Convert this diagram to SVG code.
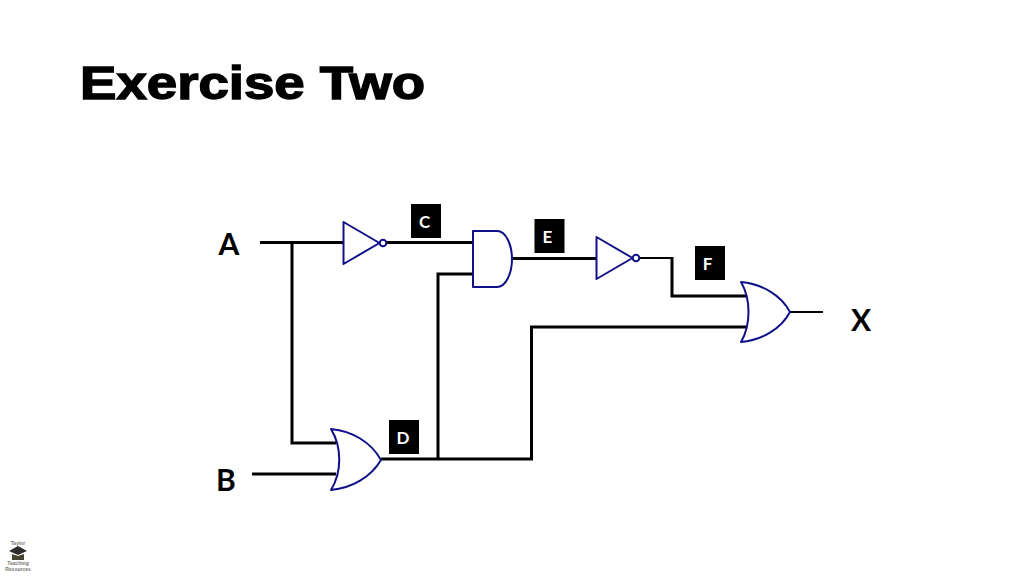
<svg xmlns="http://www.w3.org/2000/svg" width="1024" height="576" viewBox="0 0 1024 576">
<style>
.w{fill:none;stroke:#000;stroke-width:3;stroke-linejoin:miter}
.t{fill:none;stroke:#000;stroke-width:2}
.g{fill:#fff;stroke:#10108a;stroke-width:2;stroke-linejoin:round}
.b{fill:#000}
.bt{font-family:"Lato","Open Sans",sans-serif;font-weight:700;font-size:17px;fill:#fff;text-anchor:middle}
.io{font-family:"Lato","Open Sans",sans-serif;font-weight:700;font-size:30px;fill:#000;text-anchor:middle}
.lg{font-family:"Liberation Sans",sans-serif;font-size:5px;font-weight:700;fill:#777;text-anchor:middle}
</style>
<rect width="1024" height="576" fill="#fff"/>
<text id="title" x="80" y="99" font-family="Liberation Sans,sans-serif" font-weight="700" font-size="46" fill="#000" stroke="#000" stroke-width="1.400" textLength="345" lengthAdjust="spacingAndGlyphs">Exercise Two</text>
<g id="connectors">
<path class="w" d="M260 242.500H343"/>
<path class="w" d="M292 242V443H336"/>
<path class="w" d="M252 474H336"/>
<path class="w" d="M381 459H533M531.500 459V327H746"/>
<path class="w" d="M438 459V274H473"/>
<path class="w" d="M386 242.500H473"/>
<path class="w" d="M512 258.500H596"/>
<path class="t" d="M639 258H672"/>
<path class="w" d="M672 257V296H746"/>
<path class="t" d="M790 312H823"/>
</g>
<g id="not1"><path class="g" d="M343.500 222L379.500 243L343.500 264Z"/><circle class="g" cx="383" cy="243" r="3.300"/></g>
<g id="and1"><path class="g" d="M473 231H497C506 231 512 245 512 259C512 273 506 287 497 287H473Z"/></g>
<g id="not2"><path class="g" d="M596.500 237L632.500 258L596.500 279Z"/><circle class="g" cx="636" cy="258" r="3.300"/></g>
<g id="or1"><path class="g" d="M331 429C352 431 371 442 381 460C371 477 352 488 331 490C342 472 342 447 331 429Z"/></g>
<g id="or2"><path class="g" d="M741 282C762 284 781 295 790 312C781 329 762 340 741 342C751 325 751 299 741 282Z"/></g>
<g id="label-c"><rect class="b" x="411" y="204" width="30" height="34"/><text class="bt" x="424.500" y="228">C</text></g>
<g id="label-e"><rect class="b" x="534.500" y="219" width="30" height="34"/><text class="bt" x="547.500" y="243">E</text></g>
<g id="label-f"><rect class="b" x="695" y="246" width="30" height="34"/><text class="bt" x="707.500" y="270">F</text></g>
<g id="label-d"><rect class="b" x="389" y="420" width="30" height="34"/><text class="bt" x="403" y="444">D</text></g>
<g id="input-a"><text class="io" x="229" y="255">A</text></g>
<g id="input-b"><text class="io" x="226" y="491">B</text></g>
<g id="output-x"><text class="io" x="861" y="331">X</text></g>
<g id="logo">
<path d="M9 551L18 546L27 551L18 555Z" fill="#2c2c2c"/>
<path d="M12 554L18 556L24 554V560H12Z" fill="#45452f"/>
<text class="lg" x="18" y="545">Taylor</text>
<text class="lg" x="18" y="565">Teaching</text>
<text class="lg" x="18" y="571">Resources</text>
</g>
</svg>
